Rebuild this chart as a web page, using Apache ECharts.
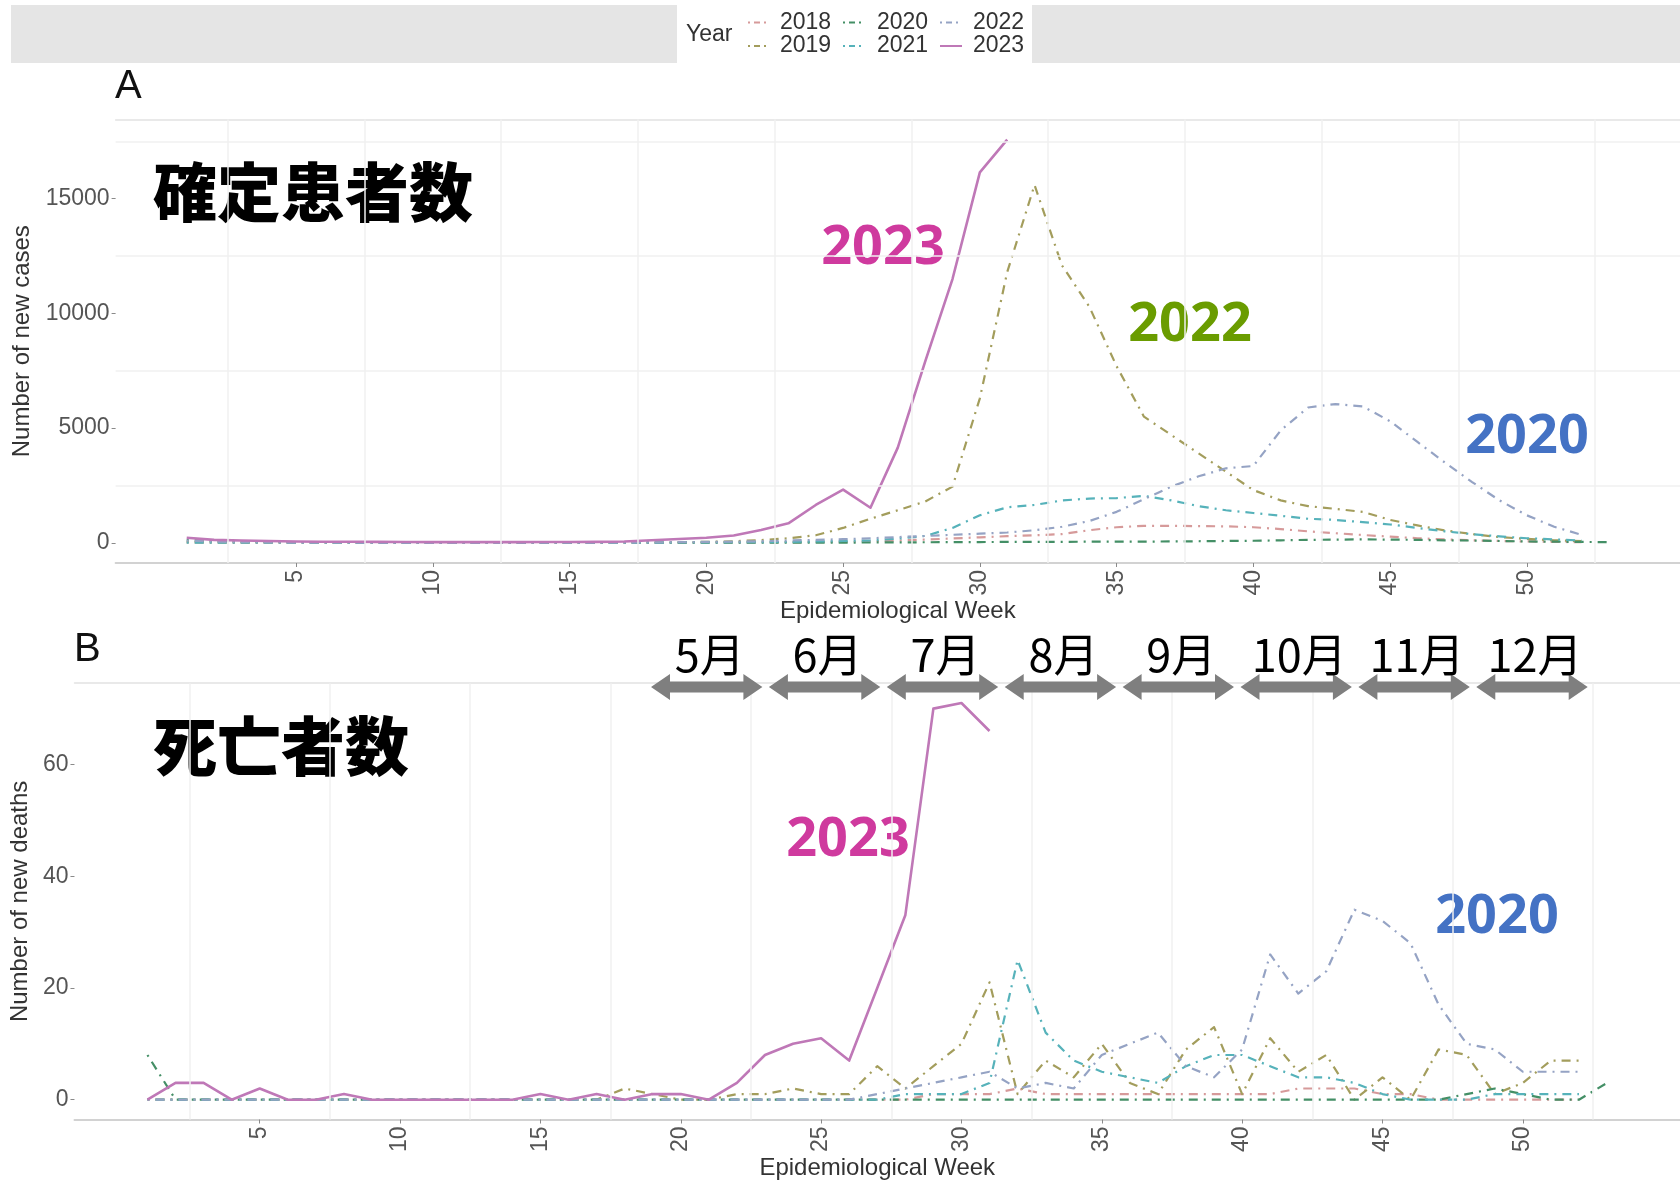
<!DOCTYPE html>
<html>
<head>
<meta charset="utf-8">
<script src="https://cdn.jsdelivr.net/npm/echarts@6/dist/echarts.min.js"></script>
<style>
  html, body { margin: 0; padding: 0; background: #ffffff; }
  #chart { width: 1680px; height: 1181px; }
</style>
</head>
<body>
<div id="chart"></div>
<script>
// Epidemiological weeks
const weeks = [1,2,3,4,5,6,7,8,9,10,11,12,13,14,15,16,17,18,19,20,21,22,23,24,25,26,
  27,28,29,30,31,32,33,34,35,36,37,38,39,40,41,42,43,44,45,46,47,48,49,50,51,52,53];
const years = ['2018', '2019', '2020', '2021', '2022', '2023'];
const weekTicks = [5, 10, 15, 20, 25, 30, 35, 40, 45, 50];
const caseTicks = [0, 5000, 10000, 15000];
const deathTicks = [0, 20, 40, 60];
const months = ['5月', '6月', '7月', '8月', '9月', '10月', '11月', '12月'];

// Weekly new cases
const cases2018 = [20,15,10,8,6,5,5,4,4,3, 3,3,3,4,5,6,8,10,12,15, 20,25,30,40,50,70,100,140,190,240,
  290,330,380,550,680,740,740,730,720,680, 600,500,420,340,270,200,150,110,80,60, 40,30,null];
const cases2019 = [30,20,15,10,8,6,5,5,4,4, 4,4,5,6,8,10,15,20,30,40, 70,120,200,330,650,1050,1420,1800,2450,6300,
  11800,15600,12100,10300,7700,5500,4700,3900,3100,2300, 1850,1600,1480,1350,1000,760,540,380,250,170, 110,80,null];
const cases2020 = [120,80,50,40,30,25,20,15,12,10, 8,6,5,4,3,3,3,3,4,5, 5,6,8,10,12,15,20,25,30,35,
  40,40,45,50,50,55,60,70,80,90, 110,130,140,150,140,130,110,100,80,60, 50,40,30];
const cases2021 = [10,8,6,5,4,3,3,2,2,2, 2,2,3,3,4,5,8,10,15,20, 25,30,40,60,80,110,180,300,650,1200,
  1550,1650,1850,1930,1950,2050,1850,1600,1420,1300, 1180,1050,1000,900,800,650,500,380,280,200, 150,100,null];
const cases2022 = [100,60,30,20,10,5,5,5,5,5, 5,5,5,5,5,8,10,20,30,40, 50,70,100,130,160,200,250,300,350,400,
  450,550,700,950,1350,1900,2450,2900,3250,3350, 4900,5900,6050,5950,5300,4400,3500,2650,1850,1200, 700,350,null];
const cases2023 = [220,130,100,80,60,50,45,40,35,30, 30,30,30,35,35,40,60,110,170,220, 320,560,850,1650,2320,1530,4150,7900,11500,16150,
  17580,null,null,null,null,null,null,null,null,null, null,null,null,null,null,null,null,null,null,null, null,null,null];

// Weekly new deaths
const deaths2018 = [0,0,0,0,0,0,0,0,0,0, 0,0,0,0,0,0,0,0,0,0, 0,0,0,0,0,0,0,0,1,1,
  1,2,1,1,1,1,1,1,1,1, 1,2,2,2,1,1,0,0,0,0, 0,0,null];
const deaths2019 = [0,0,0,0,0,0,0,0,0,0, 0,0,0,0,0,0,0,2,1,0, 0,1,1,2,1,1,6,2,6,10,
  21,1,7,4,10,3,1,9,13,1, 11,5,8,0,4,0,9,8,1,3, 7,7,null];
const deaths2020 = [8,0,0,0,0,0,0,0,0,0, 0,0,0,0,0,0,0,0,0,0, 0,0,0,0,0,0,0,0,0,0,
  0,0,0,0,0,0,0,0,0,0, 0,0,0,0,0,0,0,1,2,1, 0,0,3];
const deaths2021 = [0,0,0,0,0,0,0,0,0,0, 0,0,0,0,0,0,0,0,0,0, 0,0,0,0,0,0,0,1,1,1,
  3,25,12,7,5,4,3,6,8,8, 6,4,4,3,1,0,0,0,1,1, 1,1,null];
const deaths2022 = [0,0,0,0,0,0,0,0,0,0, 0,0,0,0,0,0,0,0,0,0, 0,0,0,0,0,0,1,2,3,4,
  5,2,3,2,8,10,12,6,4,9, 26,19,23,34,32,28,17,10,9,5, 5,5,null];
const deaths2023 = [0,3,3,0,2,0,0,1,0,0, 0,0,0,0,1,0,1,0,1,1, 0,3,8,10,11,7,20,33,70,71,
  66,null,null,null,null,null,null,null,null,null, null,null,null,null,null,null,null,null,null,null, null,null,null];

const casesByYear = [cases2018, cases2019, cases2020, cases2021, cases2022, cases2023];
const deathsByYear = [deaths2018, deaths2019, deaths2020, deaths2021, deaths2022, deaths2023];

// Styling per year
const yearColors = ['#d69a9a', '#a39d5c', '#448f66', '#56b2ba', '#95a3c4', '#bf78b7'];
const dotDash = [2, 6, 9, 6];
const yearDash = [dotDash, dotDash, dotDash, dotDash, dotDash, 'solid'];
const yearWidth = [2.2, 2.2, 2.2, 2.2, 2.2, 2.6];

const gridLineColor = '#f1f1f1';
const tickTextColor = '#555555';
const baseFont = 'Liberation Sans, Arial, sans-serif';
const cjkFont = '"Noto Sans CJK JP", "Noto Sans CJK SC", sans-serif';

function pairs(values) {
  return weeks.map((w, i) => [w, values[i]]);
}

function makeSeries(dataByYear, axisIdx) {
  return years.map((y, k) => ({
    type: 'line',
    name: y,
    xAxisIndex: axisIdx,
    yAxisIndex: axisIdx,
    data: pairs(dataByYear[k]),
    showSymbol: false,
    symbol: 'none',
    silent: true,
    z: 3,
    lineStyle: {
      color: yearColors[k],
      width: yearWidth[k],
      type: yearDash[k],
      cap: 'butt',
      join: 'round'
    }
  }));
}

// Light background grid drawn at the half-way positions between labelled ticks
function gridSeries(axisIdx, hValues) {
  const vLines = [2.5, 7.5, 12.5, 17.5, 22.5, 27.5, 32.5, 37.5, 42.5, 47.5, 52.5].map(v => ({ xAxis: v }));
  const hLines = hValues.map(v => ({ yAxis: v }));
  return {
    type: 'line',
    xAxisIndex: axisIdx,
    yAxisIndex: axisIdx,
    data: [],
    silent: true,
    z: 1,
    markLine: {
      silent: true,
      symbol: ['none', 'none'],
      label: { show: false },
      animation: false,
      lineStyle: { color: gridLineColor, width: 1.5, type: 'solid' },
      data: vLines.concat(hLines)
    }
  };
}

function bottomAxis(gridIndex, axisName) {
  return {
    type: 'value', gridIndex: gridIndex, position: 'bottom',
    min: -1.6, max: 55.6,
    name: axisName, nameLocation: 'middle', nameGap: 33,
    nameTextStyle: { fontFamily: baseFont, fontSize: 24, color: '#333333' },
    axisLine: { show: true, onZero: false, lineStyle: { color: '#d2d2d2', width: 2 } },
    axisTick: { show: true, customValues: weekTicks, length: 4, lineStyle: { color: '#8a8a8a', width: 1 } },
    axisLabel: { show: true, customValues: weekTicks, rotate: 90, margin: 7,
      fontFamily: baseFont, fontSize: 23, color: tickTextColor },
    splitLine: { show: false }
  };
}

function topAxis(gridIndex) {
  return {
    type: 'value', gridIndex: gridIndex, position: 'top',
    min: -1.6, max: 55.6,
    axisLine: { show: true, onZero: false, lineStyle: { color: '#e2e2e2', width: 1.5 } },
    axisTick: { show: false }, axisLabel: { show: false }, splitLine: { show: false }
  };
}

function leftAxis(gridIndex, min, max, ticks, axisName, gap) {
  return {
    type: 'value', gridIndex: gridIndex, min: min, max: max, position: 'left',
    name: axisName, nameLocation: 'middle', nameRotate: 90, nameGap: gap,
    nameTextStyle: { fontFamily: baseFont, fontSize: 24, color: '#333333' },
    axisLine: { show: false, onZero: false },
    axisTick: { show: true, customValues: ticks, length: 4, lineStyle: { color: '#8a8a8a', width: 1 } },
    axisLabel: { show: true, customValues: ticks, margin: 6, formatter: v => String(v),
      fontFamily: baseFont, fontSize: 23, color: tickTextColor },
    splitLine: { show: false }
  };
}

// Annotation graphics: legend, panel tags, titles, month arrows
const graphics = [];
graphics.push({ type: 'rect', shape: { x: 11, y: 5, width: 666, height: 58 }, style: { fill: '#e5e5e5' }, silent: true });
graphics.push({ type: 'rect', shape: { x: 1032, y: 5, width: 648, height: 58 }, style: { fill: '#e5e5e5' }, silent: true });
graphics.push({ type: 'text', x: 686, y: 35, style: { text: 'Year', font: '23px ' + baseFont, fill: '#333333',
  textAlign: 'left', textVerticalAlign: 'middle' }, silent: true });
const legendCols = [[748, 780], [843, 877], [940, 973]];
const legendRows = [22.5, 46];
years.forEach((y, k) => {
  const col = legendCols[Math.floor(k / 2)];
  const row = legendRows[k % 2];
  graphics.push({ type: 'line', shape: { x1: col[0], y1: row, x2: col[0] + 22, y2: row },
    style: { stroke: yearColors[k], lineWidth: 2, lineDash: k === 5 ? null : [2, 4, 6, 4] }, silent: true });
  graphics.push({ type: 'text', x: col[1], y: row, style: { text: y, font: '23px ' + baseFont, fill: '#333333',
    textAlign: 'left', textVerticalAlign: 'middle' }, silent: true });
});

graphics.push({ type: 'text', x: 115, y: 87, style: { text: 'A', font: '40px ' + baseFont, fill: '#111111',
  textAlign: 'left', textVerticalAlign: 'middle' }, silent: true });
graphics.push({ type: 'text', x: 74, y: 650, style: { text: 'B', font: '40px ' + baseFont, fill: '#111111',
  textAlign: 'left', textVerticalAlign: 'middle' }, silent: true });

graphics.push({ type: 'text', x: 153, y: 192, style: { text: '確定患者数', font: '900 64px ' + cjkFont, fill: '#000000',
  textAlign: 'left', textVerticalAlign: 'middle' }, silent: true });
graphics.push({ type: 'text', x: 153, y: 746, style: { text: '死亡者数', font: '900 64px ' + cjkFont, fill: '#000000',
  textAlign: 'left', textVerticalAlign: 'middle' }, silent: true });

const yearNotes = [
  { text: '2023', x: 883, y: 249, color: '#cf3a9e' },
  { text: '2022', x: 1190, y: 326, color: '#6a9c00' },
  { text: '2020', x: 1527, y: 438, color: '#4472c4' },
  { text: '2023', x: 848, y: 841, color: '#cf3a9e' },
  { text: '2020', x: 1497, y: 918, color: '#4472c4' }
];
yearNotes.forEach(n => {
  graphics.push({ type: 'text', x: n.x, y: n.y, style: { text: n.text, font: 'bold 54px "Noto Sans", sans-serif',
    fill: n.color, textAlign: 'center', textVerticalAlign: 'middle' }, silent: true });
});

months.forEach((m, i) => {
  const x0 = 651 + i * 117.9;
  const x1 = x0 + 111.4;
  const cy = 687, hh = 13, hl = 19, st = 5.5;
  graphics.push({ type: 'polygon', shape: { points: [
    [x0, cy], [x0 + hl, cy - hh], [x0 + hl, cy - st], [x1 - hl, cy - st], [x1 - hl, cy - hh],
    [x1, cy], [x1 - hl, cy + hh], [x1 - hl, cy + st], [x0 + hl, cy + st], [x0 + hl, cy + hh]] },
    style: { fill: '#7f7f7f' }, z: 10, silent: true });
  graphics.push({ type: 'text', x: (x0 + x1) / 2 + 3, y: 655, style: { text: m, font: '45px ' + cjkFont, fill: '#000000',
    textAlign: 'center', textVerticalAlign: 'middle' }, z: 10, silent: true });
});

const option = {
  backgroundColor: '#ffffff',
  animation: false,
  grid: [
    { left: 115.6, top: 119.4, width: 1581.4, height: 443.6, containLabel: false },
    { left: 73.6, top: 683.2, width: 1618.2, height: 443.6, containLabel: false }
  ],
  xAxis: [
    bottomAxis(0, 'Epidemiological Week'),
    bottomAxis(1, 'Epidemiological Week'),
    topAxis(0),
    topAxis(1)
  ],
  yAxis: [
    leftAxis(0, -879, 18459, caseTicks, 'Number of new cases', 80),
    leftAxis(1, -3.55, 74.55, deathTicks, 'Number of new deaths', 38)
  ],
  series: [gridSeries(0, [2500, 7500, 12500, 17500]), gridSeries(1, [])]
    .concat(makeSeries(casesByYear, 0))
    .concat(makeSeries(deathsByYear, 1)),
  graphic: graphics
};

const chart = echarts.init(document.getElementById('chart'), null, { renderer: 'canvas' });
chart.setOption(option);
</script>
</body>
</html>
